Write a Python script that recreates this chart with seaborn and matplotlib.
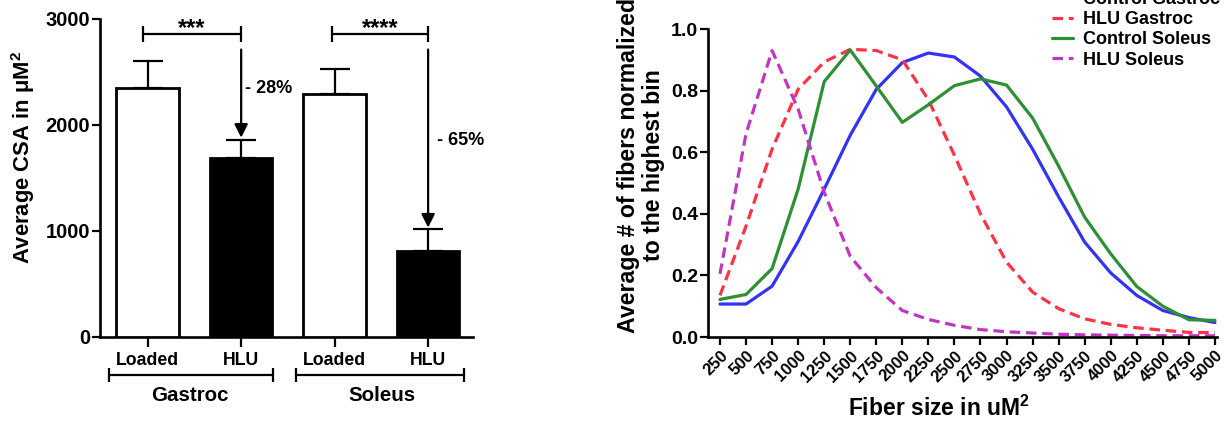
import numpy as np
import pandas as pd
import matplotlib
matplotlib.use("Agg")
import matplotlib.pyplot as plt
import seaborn as sns

# ---------------- Data ----------------
# Left panel: average CSA
groups = ["Gastroc Loaded", "Gastroc HLU", "Soleus Loaded", "Soleus HLU"]
muscles = ["Gastroc", "Soleus"]
conditions = ["Loaded", "HLU", "Loaded", "HLU"]
csa_mean = [2350, 1690, 2295, 812]
csa_sem = [254, 168, 236, 207]
bar_colors = ["white", "black", "white", "black"]
sig_labels = ["***", "****"]
pct_labels = ["- 28%", "- 65%"]

# Right panel: fiber size distribution
fiber_sizes = [250, 500, 750, 1000, 1250, 1500, 1750, 2000, 2250, 2500,
               2750, 3000, 3250, 3500, 3750, 4000, 4250, 4500, 4750, 5000]
control_gastroc = [0.107, 0.107, 0.165, 0.31, 0.48, 0.655, 0.804, 0.891, 0.922, 0.909,
                   0.847, 0.747, 0.61, 0.455, 0.308, 0.208, 0.135, 0.086, 0.063, 0.047]
hlu_gastroc = [0.135, 0.36, 0.61, 0.804, 0.893, 0.934, 0.93, 0.90, 0.77, 0.59,
               0.40, 0.243, 0.146, 0.092, 0.059, 0.041, 0.030, 0.022, 0.015, 0.014]
control_soleus = [0.122, 0.138, 0.222, 0.48, 0.829, 0.932, 0.815, 0.697, 0.754, 0.816,
                  0.838, 0.818, 0.711, 0.555, 0.389, 0.27, 0.164, 0.10, 0.056, 0.054]
hlu_soleus = [0.205, 0.66, 0.93, 0.74, 0.47, 0.262, 0.16, 0.086, 0.057, 0.038,
              0.024, 0.017, 0.013, 0.009, 0.007, 0.006, 0.005, 0.004, 0.004, 0.004]
series_names = ["Control Gastroc", "HLU Gastroc", "Control Soleus", "HLU Soleus"]

# ---------------- Style ----------------
sns.set_theme(style="ticks")
plt.rcParams.update({
    "font.family": ["Liberation Sans", "DejaVu Sans"],
    "font.weight": "bold",
    "axes.labelweight": "bold",
    "text.color": "black",
    "axes.labelcolor": "black",
    "mathtext.fontset": "custom",
    "mathtext.rm": "Liberation Sans:bold",
    "mathtext.bf": "Liberation Sans:bold",
    "mathtext.it": "Liberation Sans:italic",
    "axes.linewidth": 1.9,
    "xtick.major.width": 1.6,
    "ytick.major.width": 1.6,
    "xtick.major.size": 5,
    "ytick.major.size": 5,
    "xtick.direction": "out",
    "ytick.direction": "out",
    "xtick.color": "black",
    "ytick.color": "black",
    "xtick.labelcolor": "black",
    "ytick.labelcolor": "black",
    "axes.edgecolor": "black",
})

fig = plt.figure(figsize=(12.27, 4.22), dpi=100)
ax1 = fig.add_axes([100 / 1227, 1 - 337 / 422, 373 / 1227, 318 / 422])
ax2 = fig.add_axes([708 / 1227, 1 - 337 / 422, 509 / 1227, 308 / 422])

# ---------------- Left panel ----------------
df_bar = pd.DataFrame({"group": groups, "csa": csa_mean})
sns.barplot(data=df_bar, x="group", y="csa", hue="group", palette=bar_colors,
            edgecolor="black", linewidth=2, width=0.67, legend=False, ax=ax1,
            saturation=1, errorbar=None, zorder=3)
xpos = np.arange(len(groups))
ax1.errorbar(xpos, csa_mean, yerr=[np.zeros(len(groups)), csa_sem], fmt="none",
             ecolor="black", elinewidth=1.6, capsize=11, capthick=1.6, zorder=2)
ax1.set_ylim(0, 3000)
ax1.set_xlim(-0.51, 3.48)
ax1.set_yticks([0, 1000, 2000, 3000])
ax1.set_xticks(xpos)
ax1.set_xticklabels(conditions, fontsize=12.7, fontweight="bold")
ax1.tick_params(axis="y", labelsize=14.5, pad=1, length=6)
ax1.tick_params(axis="x", length=7, pad=4)
ax1.set_xlabel("")
ax1.set_ylabel("Average CSA in μM$^2$", fontsize=15.8, fontweight="bold")
ax1.yaxis.set_label_coords(-0.169, 0.563)
sns.despine(ax=ax1)

# significance brackets
for (x0, x1), lab, xs in zip([(-0.05, 1.0), (1.97, 3.0)], sig_labels, [0.47, 2.49]):
    ax1.plot([x0, x1], [2858, 2858], color="black", lw=1.6, marker="|",
             markersize=12, markeredgewidth=1.6, clip_on=False)
    ax1.text(xs, 2850, lab, ha="center", va="baseline", fontsize=17, fontweight="bold")

# arrows and percentages
for xa, ytip, lab, (tx, ty) in zip([1, 3], [1880, 1032], pct_labels,
                                   [(1.04, 2349), (3.1, 1858)]):
    ax1.annotate("", xy=(xa, ytip), xytext=(xa, 2712),
                 arrowprops=dict(arrowstyle="-|>", color="black", lw=1.6,
                                 mutation_scale=20, shrinkA=0, shrinkB=0))
    ax1.text(tx, ty, lab, ha="left", va="center", fontsize=13, fontweight="bold")

# group brackets below
trans = ax1.get_xaxis_transform()
for (x0, x1), lab, xc in zip([(-0.41, 1.34), (1.59, 3.38)], muscles, [0.45, 2.51]):
    ax1.plot([x0, x1], [-0.12, -0.12], transform=trans, color="black", lw=1.6,
             marker="|", markersize=10, markeredgewidth=1.6, clip_on=False)
    ax1.text(xc, -0.185, lab, transform=trans, ha="center", va="center",
             fontsize=14.8, fontweight="bold")

# ---------------- Right panel ----------------
df_line = pd.DataFrame({
    "size": fiber_sizes * 4,
    "value": control_gastroc + hlu_gastroc + control_soleus + hlu_soleus,
    "series": sum([[s] * len(fiber_sizes) for s in series_names], []),
})
palette = {"Control Gastroc": "#3333F5", "HLU Gastroc": "#FF3348",
           "Control Soleus": "#2F8F35", "HLU Soleus": "#C235C2"}
dashes = {"Control Gastroc": "", "HLU Gastroc": (3.3, 1.8),
          "Control Soleus": "", "HLU Soleus": (3.3, 1.8)}
sns.lineplot(data=df_line, x="size", y="value", hue="series", style="series",
             hue_order=series_names, style_order=series_names,
             palette=palette, dashes=dashes, linewidth=2.3, ax=ax2)
ax2.set_xlim(135, 5020)
ax2.set_ylim(0, 1.0)
ax2.set_yticks([0.0, 0.2, 0.4, 0.6, 0.8, 1.0])
ax2.set_yticklabels(["0.0", "0.2", "0.4", "0.6", "0.8", "1.0"])
ax2.set_xticks(fiber_sizes)
ax2.set_xticklabels([str(v) for v in fiber_sizes], rotation=45, ha="right",
                    rotation_mode="anchor", fontsize=12, fontweight="bold")
ax2.tick_params(axis="y", labelsize=14, pad=1, length=6)
ax2.tick_params(axis="x", length=6, pad=2)
ax2.set_xlabel(r"Fiber size in uM$^2$", fontsize=16.5, fontweight="bold", va="top")
ax2.xaxis.set_label_coords(0.454, -0.19)
ax2.set_ylabel("Average # of fibers normalized\nto the highest bin", fontsize=16.7,
               fontweight="bold", linespacing=1.1)
ax2.yaxis.set_label_coords(-0.085, 0.558)
sns.despine(ax=ax2)

handles, labels = ax2.get_legend_handles_labels()
leg = ax2.legend(handles, labels, loc="upper left",
                 bbox_to_anchor=(1052 / 1227, 1 + 9 / 422),
                 bbox_transform=fig.transFigure, frameon=False,
                 prop={"weight": "bold", "size": 13}, handlelength=1.17,
                 handletextpad=0.55, labelspacing=0.18, borderpad=0, borderaxespad=0)
for line in leg.get_lines():
    line.set_linewidth(2.3)

fig.savefig("out.png", dpi=100)
